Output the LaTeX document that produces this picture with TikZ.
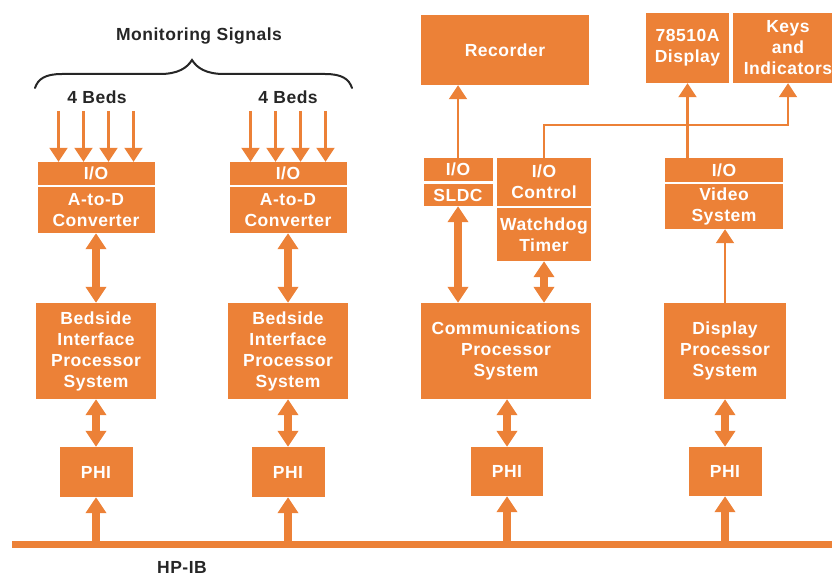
\documentclass[tikz,border=0pt]{standalone}
\usepackage{fontspec}
\setmainfont{Liberation Sans}[LetterSpace=3]
\usetikzlibrary{arrows.meta,calc}
\definecolor{hporange}{HTML}{EC8137}
\definecolor{ink}{HTML}{262626}
\tikzset{
  blk/.style={fill=hporange, text=white, inner sep=0pt, align=center,
    font=\bfseries\fontsize{17.5}{21}\selectfont},
  lbl/.style={text=ink, inner sep=0pt, font=\bfseries\fontsize{17.5}{21}\selectfont},
  sig/.style={draw=hporange, line width=2.1pt, -{Triangle[width=18pt,length=14pt]}},
  fat/.style={draw=hporange, line width=8pt, -{Triangle[width=20pt,length=16pt]}},
  fatboth/.style={draw=hporange, line width=8pt,
    {Triangle[width=20pt,length=16pt]}-{Triangle[width=20pt,length=16pt]}},
}
\begin{document}
\begin{tikzpicture}[x=1pt,y=-1pt]
\useasboundingbox (0,0) rectangle (832,575);
\clip (0,0) rectangle (832,575);

% ---- bedside interface columns ----
\node[lbl] (mon) at (199,36) {Monitoring Signals};
\draw[ink, line width=2pt, line cap=round]
  (35,88) .. controls (38,79) and (45,74) .. (62,74) -- (160,74)
  .. controls (178,74) and (187,68) .. (192,60)
  .. controls (197,68) and (206,74) .. (224,74) -- (325,74)
  .. controls (342,74) and (349,79) .. (352,88);
\node[lbl] (bedsA) at (97,97) {4 Beds};
\node[lbl] (bedsB) at (288,97) {4 Beds};

\node[blk, minimum width=117pt, minimum height=23pt] (ioA) at (96,173.5) {I/O};
\node[blk, minimum width=117pt, minimum height=46pt] (adcA) at (96,210) {A-to-D\\Converter};
\node[blk, minimum width=120pt, minimum height=96pt] (bipA) at (96,351) {Bedside\\Interface\\Processor\\System};
\node[blk, minimum width=73pt, minimum height=50pt] (phiA) at (96,472) {PHI};

\node[blk, minimum width=117pt, minimum height=23pt] (ioB) at (288,173.5) {I/O};
\node[blk, minimum width=117pt, minimum height=46pt] (adcB) at (288,210) {A-to-D\\Converter};
\node[blk, minimum width=120pt, minimum height=96pt] (bipB) at (288,351) {Bedside\\Interface\\Processor\\System};
\node[blk, minimum width=73pt, minimum height=50pt] (phiB) at (288,472) {PHI};

\foreach \dx in {-37.5,-12.5,12.5,37.5} {
  \draw[sig] ([xshift=\dx pt, yshift=51pt]ioA.north) -- ([xshift=\dx pt]ioA.north);
  \draw[sig] ([xshift=\dx pt, yshift=51pt]ioB.north) -- ([xshift=\dx pt]ioB.north);
}

% ---- communications column ----
\node[blk, minimum width=168pt, minimum height=70pt] (rec) at (505,50) {Recorder};
\node[blk, minimum width=69pt, minimum height=23pt] (ioS) at (458,169.5) {I/O};
\node[blk, minimum width=69pt, minimum height=22pt] (sldc) at (458,195) {SLDC};
\node[blk, minimum width=94pt, minimum height=48pt] (ioc) at (544,182) {I/O\\Control};
\node[blk, minimum width=94pt, minimum height=53pt] (wdt) at (544,234.5) {Watchdog\\Timer};
\node[blk, minimum width=170pt, minimum height=96pt] (comm) at (506,351) {Communications\\Processor\\System};
\node[blk, minimum width=72pt, minimum height=49pt] (phiC) at (507,471.5) {PHI};

% ---- display column ----
\node[blk, minimum width=83pt, minimum height=70pt] (disp) at (687.5,48) {78510A\\Display};
\node[blk, minimum width=110pt, minimum height=70pt] (keys) at (788,48) {Keys\\and\\Indicators};
\node[blk, minimum width=118pt, minimum height=24pt] (ioV) at (724,170) {I/O};
\node[blk, minimum width=118pt, minimum height=45pt] (vid) at (724,206.5) {Video\\System};
\node[blk, minimum width=122pt, minimum height=96pt] (dps) at (725,351) {Display\\Processor\\System};
\node[blk, minimum width=73pt, minimum height=49pt] (phiD) at (725,471.5) {PHI};

% ---- HP-IB bus ----
\node[fill=hporange, inner sep=0pt, minimum width=830pt, minimum height=7pt, anchor=west] (bus) at (12,544.5) {};
\node[lbl] (hpib) at (182,567) {HP-IB};

% ---- connectors ----
\draw[fatboth] (adcA.south) -- (bipA.north);
\draw[fatboth] (bipA.south) -- (phiA.north);
\draw[fat] (phiA.south |- bus.north) -- (phiA.south);
\draw[fatboth] (adcB.south) -- (bipB.north);
\draw[fatboth] (bipB.south) -- (phiB.north);
\draw[fat] (phiB.south |- bus.north) -- (phiB.south);

\draw[sig] (ioS.north) -- (ioS.north |- rec.south);
\draw[fatboth] (sldc.south) -- (sldc.south |- comm.north);
\draw[fatboth] (wdt.south) -- (wdt.south |- comm.north);
\draw[fatboth] (comm.south -| phiC.north) -- (phiC.north);
\draw[fat] (phiC.south |- bus.north) -- (phiC.south);

\coordinate (jn) at (ioc.north |- 0,125);
\draw[sig] (ioc.north) -- (jn) -| (keys.south);
\draw[sig] (ioV.north -| disp.south) -- (disp.south);
\draw[sig] (dps.north) -- (dps.north |- vid.south);
\draw[fatboth] (dps.south -| phiD.north) -- (phiD.north);
\draw[fat] (phiD.south |- bus.north) -- (phiD.south);
\end{tikzpicture}
\end{document}
